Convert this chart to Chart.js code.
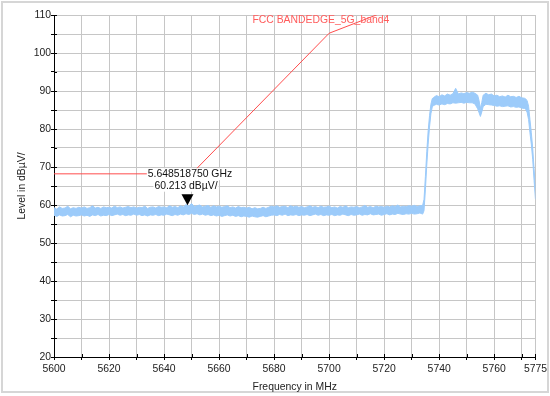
<!DOCTYPE html>
<html>
<head>
<meta charset="utf-8">
<script src="https://cdn.jsdelivr.net/npm/chart.js@4.4.1/dist/chart.umd.min.js"></script>
<style>
html, body { margin: 0; padding: 0; background: #fff; }
canvas { display: block; }
</style>
</head>
<body>
<canvas id="chart" width="550" height="396"></canvas>
<script>
var traceFreq = [
    5600, 5601, 5602, 5603, 5604, 5605, 5606, 5607, 5608, 5609,
    5610, 5611, 5612, 5613, 5614, 5615, 5616, 5617, 5618, 5619,
    5620, 5621, 5622, 5623, 5624, 5625, 5626, 5627, 5628, 5629,
    5630, 5631, 5632, 5633, 5634, 5635, 5636, 5637, 5638, 5639,
    5640, 5641, 5642, 5643, 5644, 5645, 5646, 5647, 5648, 5649,
    5650, 5651, 5652, 5653, 5654, 5655, 5656, 5657, 5658, 5659,
    5660, 5661, 5662, 5663, 5664, 5665, 5666, 5667, 5668, 5669,
    5670, 5671, 5672, 5673, 5674, 5675, 5676, 5677, 5678, 5679,
    5680, 5681, 5682, 5683, 5684, 5685, 5686, 5687, 5688, 5689,
    5690, 5691, 5692, 5693, 5694, 5695, 5696, 5697, 5698, 5699,
    5700, 5701, 5702, 5703, 5704, 5705, 5706, 5707, 5708, 5709,
    5710, 5711, 5712, 5713, 5714, 5715, 5716, 5717, 5718, 5719,
    5720, 5721, 5722, 5723, 5724, 5725, 5726, 5727, 5728, 5729,
    5730, 5731, 5732, 5733, 5734,
    5734.5, 5735, 5735.5, 5736, 5736.5, 5737, 5737.5,
    5738, 5739, 5740, 5741, 5742, 5743, 5744, 5745, 5746, 5747,
    5748, 5749, 5750, 5751, 5752, 5753, 5754,
    5754.5, 5755, 5755.5,
    5756, 5757, 5758, 5759, 5760, 5761, 5762, 5763, 5764, 5765,
    5766, 5767, 5768, 5769, 5770, 5771,
    5771.5, 5772, 5772.5, 5773, 5773.5, 5774, 5774.5, 5775
];
var traceMax = [
    59.3, 58.9, 59.5, 59.1, 59.2, 59.7, 59.0, 59.3, 59.1, 59.4,
    59.2, 59.5, 59.1, 59.3, 59.8, 59.2, 59.4, 59.1, 59.5, 59.3,
    59.4, 59.2, 59.7, 59.3, 59.5, 59.2, 59.4, 59.6, 59.3, 59.5,
    59.2, 59.4, 59.3, 59.7, 59.1, 59.4, 59.5, 59.2, 59.6, 59.4,
    59.5, 59.3, 59.8, 59.4, 59.6, 59.3, 59.8, 59.5, 60.1, 59.7,
    60.4, 59.6, 59.8, 60.0, 59.5, 59.7, 59.9, 59.4, 59.8, 59.5,
    59.7, 59.4, 59.6, 59.8, 59.3, 59.5, 59.2, 59.6, 59.3, 59.4,
    59.2, 59.4, 59.0, 59.3, 59.0, 59.1, 59.4, 59.1, 59.4, 59.7,
    59.5, 59.8, 59.4, 59.6, 59.7, 59.3, 59.8, 59.5, 59.7, 59.4,
    59.6, 59.3, 59.5, 59.8, 59.4, 59.6, 59.3, 59.7, 59.4, 59.5,
    59.7, 59.3, 59.5, 59.2, 59.6, 59.4, 59.8, 59.3, 59.5, 59.4,
    59.6, 59.3, 59.5, 59.9, 59.4, 59.6, 59.3, 59.7, 59.5, 59.6,
    59.4, 59.7, 59.5, 59.8, 59.6, 60.0, 59.5, 59.7, 59.6, 59.8,
    59.7, 59.9, 59.6, 59.8, 59.9,
    61.5, 67.5, 74.0, 79.5, 83.5, 86.5, 88.0,
    88.3, 88.8, 88.5, 89.0, 88.7, 89.2, 88.9, 89.3, 90.7, 89.2,
    89.5, 89.3, 89.6, 89.4, 89.7, 89.4, 88.9,
    87.5, 85.4, 87.0,
    88.9, 89.4, 89.0, 89.2, 88.7, 88.9, 88.5, 88.7, 88.4, 88.9,
    88.5, 88.6, 88.3, 88.6, 88.2, 88.1,
    87.9, 87.4, 86.0, 82.5, 79.0, 75.0, 69.5, 64.5
];
var traceMin = [
    57.3, 57.0, 57.4, 57.1, 57.2, 57.5, 56.9, 57.3, 57.1, 57.2,
    57.4, 57.1, 57.3, 57.0, 57.4, 57.2, 57.5, 57.1, 57.3, 57.2,
    57.5, 57.2, 57.4, 57.6, 57.3, 57.5, 57.2, 57.4, 57.3, 57.6,
    57.3, 57.5, 57.2, 57.4, 57.1, 57.4, 57.3, 57.5, 57.2, 57.4,
    57.3, 57.6, 57.4, 57.2, 57.5, 57.3, 57.6, 57.4, 57.7, 57.5,
    57.8, 57.5, 57.7, 57.4, 57.6, 57.3, 57.5, 57.2, 57.4, 57.1,
    57.3, 57.0, 57.2, 57.4, 57.1, 57.3, 57.0, 57.2, 56.9, 57.1,
    57.0, 56.8, 57.1, 56.9, 56.8, 57.0, 57.2, 56.9, 57.1, 57.3,
    57.4, 57.2, 57.5, 57.3, 57.6, 57.2, 57.4, 57.3, 57.5, 57.2,
    57.4, 57.3, 57.5, 57.2, 57.4, 57.6, 57.3, 57.5, 57.2, 57.4,
    57.3, 57.5, 57.2, 57.4, 57.3, 57.6, 57.4, 57.2, 57.5, 57.3,
    57.4, 57.6, 57.3, 57.5, 57.4, 57.7, 57.4, 57.5, 57.6, 57.3,
    57.5, 57.7, 57.4, 57.6, 57.5, 57.8, 57.6, 57.5, 57.7, 57.6,
    57.8, 57.6, 57.7, 57.9, 57.6,
    58.5, 64.0, 70.5, 76.0, 80.5, 84.0, 85.8,
    86.2, 86.5, 86.3, 86.6, 86.4, 86.7, 86.6, 86.9, 86.8, 86.9,
    87.0, 86.8, 87.0, 86.9, 86.9, 86.6, 85.3,
    84.3, 83.3, 84.5,
    85.9, 86.5, 86.4, 86.3, 86.2, 86.0, 86.1, 85.9, 86.0, 86.1,
    85.8, 85.9, 85.7, 85.8, 85.5, 85.4,
    85.2, 84.3, 82.5, 79.0, 76.0, 72.0, 66.5, 61.5
];

// limit line
var limitName = "FCC BANDEDGE_5G_band4";
var limitFreq = [5600, 5650, 5700, 5720, 5725];
var limitLevel = [68.2, 68.2, 105.2, 110.8, 122.2];

// marker 1
var markerFreq = 5648.518750;
var markerLevel = 60.213;

// axes
var xTicks = [5600, 5610, 5620, 5630, 5640, 5650, 5660, 5670, 5680, 5690,
              5700, 5710, 5720, 5730, 5740, 5750, 5760, 5770, 5775];
var xLabels = [5600, 5620, 5640, 5660, 5680, 5700, 5720, 5740, 5760, 5775];
var yTicks = [20, 25, 30, 35, 40, 45, 50, 55, 60, 65, 70, 75, 80, 85, 90, 95, 100, 105, 110];
var yLabels = [20, 30, 40, 50, 60, 70, 80, 90, 100, 110];

var traceColor = '#9ccbfa';
var limitColor = '#ff4d4d';
var gridColor = '#c6c6c6';
var fontFamily = '"Liberation Sans", Arial, sans-serif';
var fontSize = 10.4;

function toPoints(xs, ys) {
    var out = [];
    for (var i = 0; i < xs.length; i++) {
        out.push({ x: xs[i], y: ys[i] });
    }
    return out;
}

var decorations = {
    id: 'decorations',
    beforeDraw: function (chart) {
        var ctx = chart.ctx;
        ctx.save();
        ctx.fillStyle = '#fff';
        ctx.fillRect(0, 0, chart.width, chart.height);
        ctx.strokeStyle = '#d6d6d6';
        ctx.lineWidth = 2;
        ctx.strokeRect(2, 2, 546, 390);
        ctx.restore();
    },
    afterDatasetsDraw: function (chart) {
        var ctx = chart.ctx;
        var xs = chart.scales.x;
        var ys = chart.scales.y;
        ctx.save();

        // tick marks on the inside of the axes
        ctx.strokeStyle = '#000';
        ctx.lineWidth = 1;
        ctx.beginPath();
        xTicks.forEach(function (v) {
            var px = Math.round(xs.getPixelForValue(v)) + 0.5;
            ctx.moveTo(px, ys.bottom);
            ctx.lineTo(px, ys.bottom - 3);
        });
        yTicks.forEach(function (v) {
            var py = Math.round(ys.getPixelForValue(v)) + 0.5;
            ctx.moveTo(xs.left, py);
            ctx.lineTo(xs.left + 3, py);
        });
        ctx.stroke();

        // limit line name
        ctx.font = fontSize + 'px ' + fontFamily;
        ctx.textAlign = 'center';
        ctx.textBaseline = 'middle';
        ctx.fillStyle = '#ff5c5c';
        ctx.fillText(limitName, xs.getPixelForValue(5697), ys.getPixelForValue(108.7));

        // marker readout
        var mx = xs.getPixelForValue(markerFreq);
        var my = ys.getPixelForValue(markerLevel);
        var lines = [
            { text: (markerFreq / 1000).toFixed(9) + ' GHz', x: mx + 2.5, y: my - 30 },
            { text: markerLevel.toFixed(3) + ' dB\u00b5V/', x: mx - 1.5, y: my - 18.5 }
        ];
        lines.forEach(function (l) {
            var w = ctx.measureText(l.text).width;
            ctx.fillStyle = '#fff';
            ctx.fillRect(l.x - w / 2 - 1, l.y - 6, w + 2, 12);
        });
        ctx.fillStyle = '#111';
        lines.forEach(function (l) {
            ctx.fillText(l.text, l.x, l.y);
        });

        // marker triangle, tip on the trace
        ctx.beginPath();
        ctx.moveTo(mx - 6, my - 10);
        ctx.lineTo(mx + 6, my - 10);
        ctx.lineTo(mx, my + 1);
        ctx.closePath();
        ctx.fillStyle = '#000';
        ctx.fill();

        ctx.restore();
    }
};

new Chart(document.getElementById('chart'), {
    type: 'line',
    data: {
        datasets: [
            {
                label: 'max',
                data: toPoints(traceFreq, traceMax),
                borderColor: traceColor,
                borderWidth: 1,
                pointRadius: 0,
                fill: false
            },
            {
                label: 'min',
                data: toPoints(traceFreq, traceMin),
                borderColor: traceColor,
                backgroundColor: traceColor,
                borderWidth: 1,
                pointRadius: 0,
                fill: '-1'
            },
            {
                label: limitName,
                data: toPoints(limitFreq, limitLevel),
                borderColor: limitColor,
                borderWidth: 1,
                pointRadius: 0,
                fill: false
            }
        ]
    },
    options: {
        responsive: false,
        animation: false,
        layout: { padding: { left: 0, right: 14, top: 15, bottom: 0 } },
        plugins: {
            legend: { display: false },
            tooltip: { enabled: false }
        },
        scales: {
            x: {
                type: 'linear',
                min: 5600,
                max: 5775,
                afterBuildTicks: function (scale) {
                    scale.ticks = xTicks.map(function (v) { return { value: v }; });
                },
                afterFit: function (scale) { scale.height = 39; },
                ticks: {
                    autoSkip: false,
                    maxRotation: 0,
                    padding: 3,
                    color: '#222',
                    font: { family: fontFamily, size: fontSize },
                    callback: function (v) { return xLabels.indexOf(v) >= 0 ? String(v) : ''; }
                },
                grid: { color: gridColor, tickColor: '#000', tickLength: 3 },
                border: { color: '#000' },
                title: {
                    display: true,
                    text: 'Frequency in MHz',
                    color: '#222',
                    font: { family: fontFamily, size: fontSize },
                    padding: { top: 0, bottom: 3 }
                }
            },
            y: {
                type: 'linear',
                min: 20,
                max: 110,
                afterBuildTicks: function (scale) {
                    scale.ticks = yTicks.map(function (v) { return { value: v }; });
                },
                afterFit: function (scale) { scale.width = 54; },
                ticks: {
                    padding: 0,
                    color: '#222',
                    font: { family: fontFamily, size: fontSize },
                    callback: function (v) { return yLabels.indexOf(v) >= 0 ? String(v) : ''; }
                },
                grid: { color: gridColor, tickColor: '#000', tickLength: 3 },
                border: { color: '#000' },
                title: {
                    display: true,
                    text: 'Level in dB\u00b5V/',
                    color: '#222',
                    font: { family: fontFamily, size: fontSize },
                    padding: { top: 16, bottom: 0 }
                }
            }
        }
    },
    plugins: [decorations]
});
</script>
</body>
</html>
